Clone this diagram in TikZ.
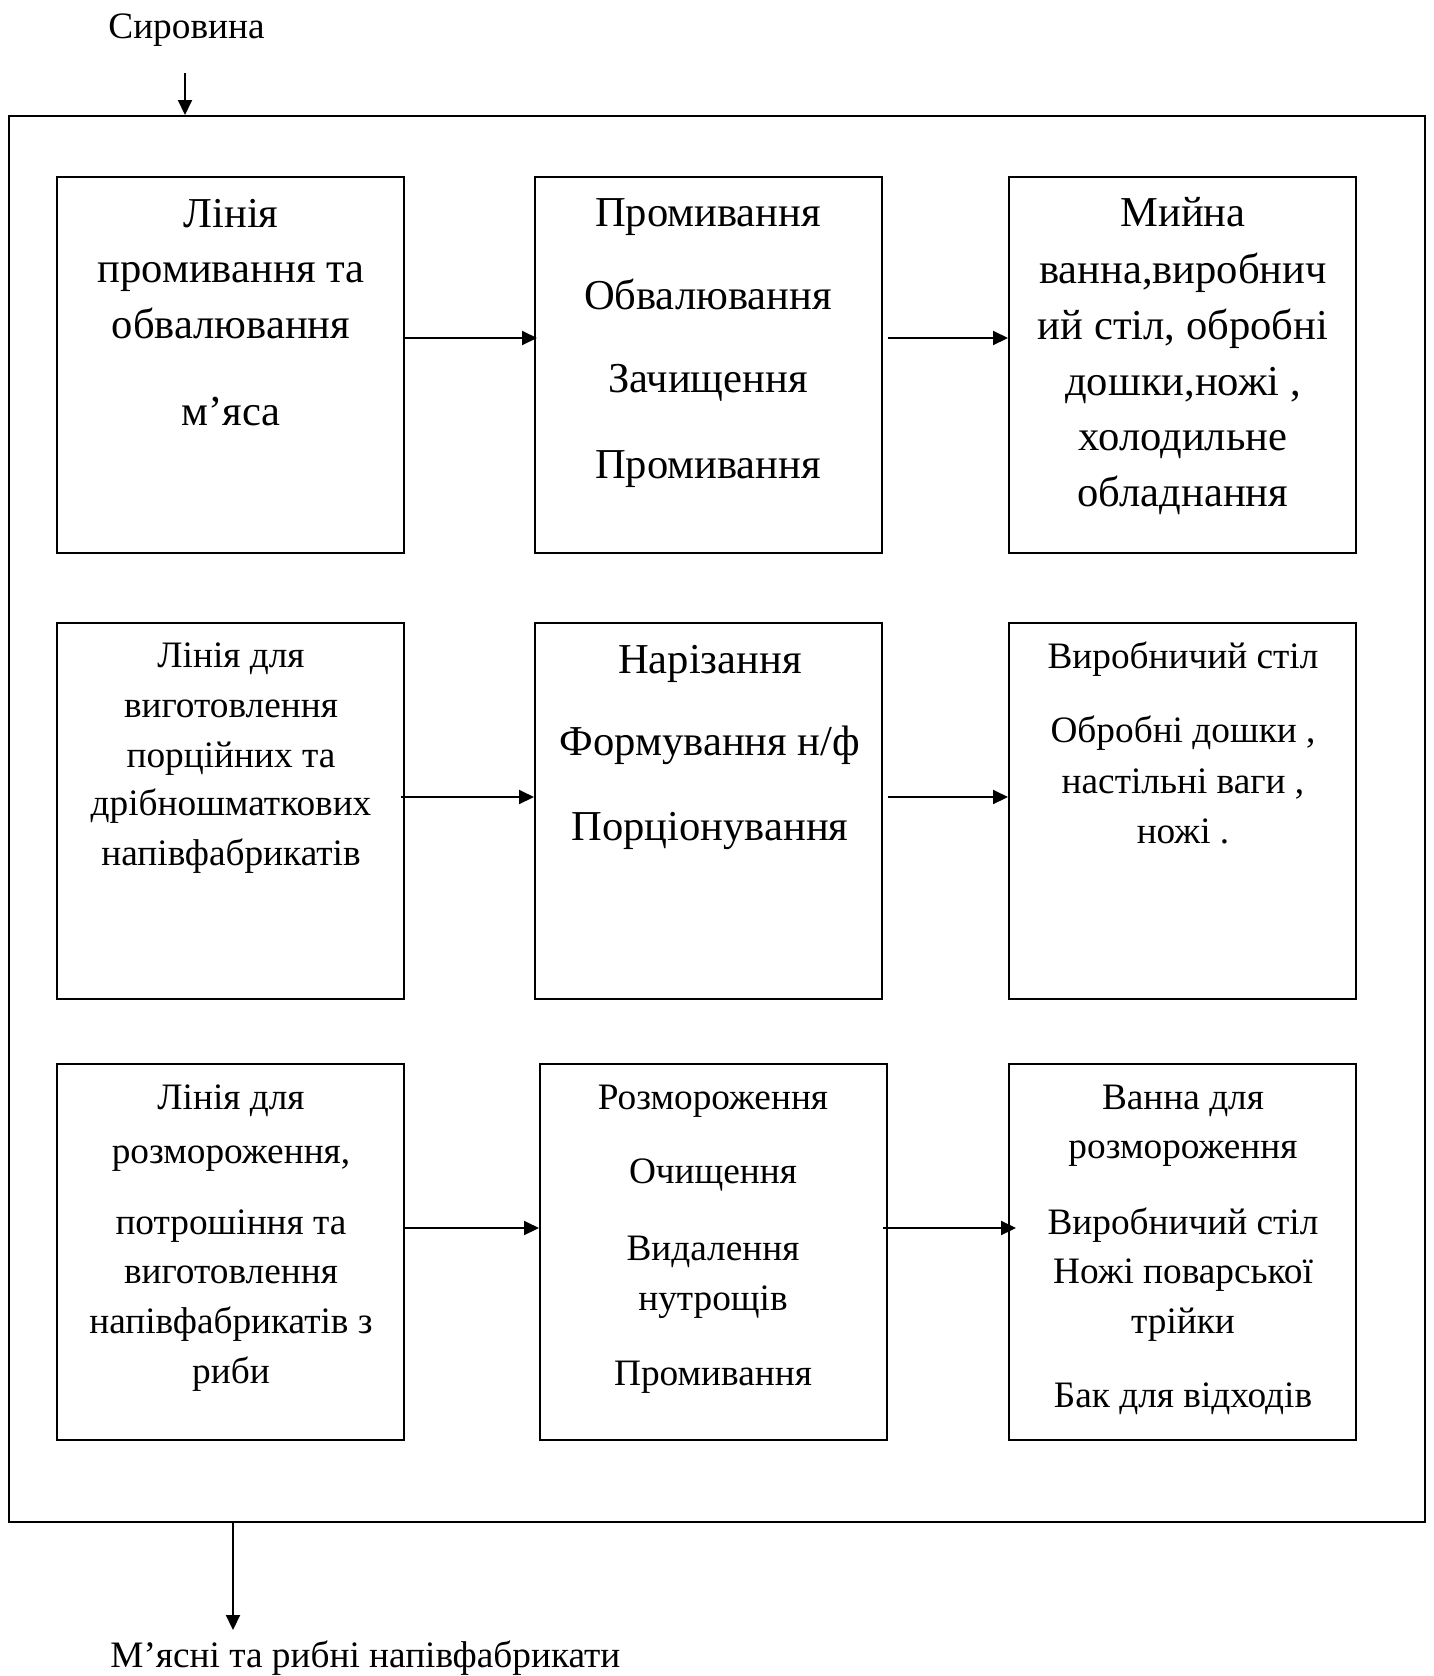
\documentclass[tikz,border=0pt]{standalone}
\usepackage{fontspec}
\setmainfont{Liberation Serif}
\usetikzlibrary{arrows.meta,calc}
\begin{document}
\begin{tikzpicture}[x=0.5pt,y=-0.5pt,
  stage/.style={draw,line width=1pt,minimum width=173.5pt,minimum height=188pt,inner sep=0pt},
  big/.style={font=\fontsize{21.3}{26}\selectfont,anchor=base,inner sep=0pt},
  small/.style={font=\fontsize{18.65}{24}\selectfont,anchor=base,inner sep=0pt},
  flow/.style={line width=1pt,-{Triangle[length=7.5pt,width=7pt]}}]
\useasboundingbox (0,0) rectangle (1434,1676);

% outer frame of the workshop
\node[draw,line width=1pt,minimum width=708pt,minimum height=703pt,inner sep=0pt] (frame) at (717,819) {};

% input and output
\node[small,anchor=base west] (raw) at (108,38) {Сировина};
\coordinate (rawtop) at (185,73);
\draw[flow] (rawtop) -- (rawtop |- frame.north);
\node[small,anchor=base west] (out) at (110,1667) {М’ясні та рибні напівфабрикати};
\coordinate (outtip) at (233,1630);
\draw[flow] (outtip |- frame.south) -- (outtip);

% stage boxes
\node[stage] (A) at (230.5,364.5) {};
\node[stage] (B) at (708.5,364.5) {};
\node[stage] (C) at (1182.5,364.5) {};
\node[stage] (D) at (230.5,811) {};
\node[stage] (E) at (708.5,811) {};
\node[stage] (F) at (1182.5,811) {};
\node[stage] (G) at (230.5,1252) {};
\node[stage] (H) at (713.5,1252) {};
\node[stage] (I) at (1182.5,1252) {};

% box texts
\foreach \lineY/\lineT [count=\k] in {227/Лінія, 282/промивання та, 338/обвалювання, 425/м’яса}
  \node[big] (A-\k) at (231,\lineY) {\lineT};
\foreach \lineY/\lineT [count=\k] in {226/Промивання, 309/Обвалювання, 392/Зачищення, 478/Промивання}
  \node[big] (B-\k) at (708,\lineY) {\lineT};
\foreach \lineY/\lineT [count=\k] in {226/Мийна, 283/{ванна,виробнич}, 339/{ий стіл, обробні}, 395/{дошки,ножі ,}, 450/холодильне, 506/обладнання}
  \node[big] (C-\k) at (1183,\lineY) {\lineT};
\foreach \lineY/\lineT [count=\k] in {667/Лінія для, 717/виготовлення, 767/порційних та, 815/дрібношматкових, 865/напівфабрикатів}
  \node[small] (D-\k) at (231,\lineY) {\lineT};
\foreach \lineY/\lineT [count=\k] in {673/Нарізання, 755/{Формування н/ф}, 840/Порціонування}
  \node[big] (E-\k) at (710,\lineY) {\lineT};
\foreach \lineY/\lineT [count=\k] in {668/Виробничий стіл, 742/{Обробні дошки ,}, 793/{настільні ваги ,}, 843/ножі .}
  \node[small] (F-\k) at (1183,\lineY) {\lineT};
\foreach \lineY/\lineT [count=\k] in {1109/Лінія для, 1163/{розмороження,}, 1234/потрошіння та, 1283/виготовлення, 1333/напівфабрикатів з, 1383/риби}
  \node[small] (G-\k) at (231,\lineY) {\lineT};
\foreach \lineY/\lineT [count=\k] in {1109/Розмороження, 1183/Очищення, 1260/Видалення, 1310/нутрощів, 1385/Промивання}
  \node[small] (H-\k) at (713,\lineY) {\lineT};
\foreach \lineY/\lineT [count=\k] in {1109/Ванна для, 1158/розмороження, 1234/Виробничий стіл, 1283/Ножі поварської, 1333/трійки, 1407/Бак для відходів}
  \node[small] (I-\k) at (1183,\lineY) {\lineT};

% connectors between stages
\draw[flow] (A.east |- 0,338) -- ($(B.west |- 0,338)+(3,0)$);
\draw[flow] ($(B.east |- 0,338)+(5,0)$) -- (C.west |- 0,338);
\draw[flow] ($(D.east |- 0,797)+(-4,0)$) -- (E.west |- 0,797);
\draw[flow] ($(E.east |- 0,797)+(5,0)$) -- (F.west |- 0,797);
\draw[flow] (G.east |- 0,1228) -- (H.west |- 0,1228);
\draw[flow] ($(H.east |- 0,1228)+(-5,0)$) -- ($(I.west |- 0,1228)+(8,0)$);
\end{tikzpicture}
\end{document}
